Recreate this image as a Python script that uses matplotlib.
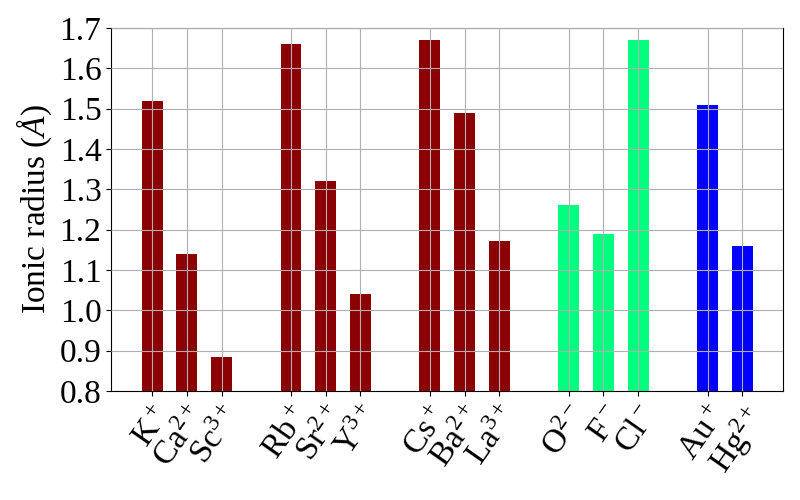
import matplotlib
matplotlib.use("Agg")
import numpy as np
import matplotlib.pyplot as plt

# ionic radii (Angstrom), grouped by period / type
labels = [r"K$^+$", r"Ca$^{2+}$", r"Sc$^{3+}$",
          r"Rb$^+$", r"Sr$^{2+}$", r"Y$^{3+}$",
          r"Cs$^+$", r"Ba$^{2+}$", r"La$^{3+}$",
          r"O$^{2-}$", r"F$^-$", r"Cl$^-$",
          r"Au$^+$", r"Hg$^{2+}$"]
positions = [0, 1, 2, 4, 5, 6, 8, 9, 10, 12, 13, 14, 16, 17]
radii = [1.52, 1.14, 0.885, 1.66, 1.32, 1.04, 1.67, 1.49, 1.172,
         1.26, 1.19, 1.67, 1.51, 1.16]
colors = ["darkred"] * 9 + ["springgreen"] * 3 + ["blue"] * 2

plt.rcParams["font.family"] = ["Liberation Serif", "DejaVu Serif"]
plt.rcParams["mathtext.fontset"] = "custom"
plt.rcParams["mathtext.rm"] = "Liberation Serif"
plt.rcParams["mathtext.it"] = "Liberation Serif:italic"
plt.rcParams["mathtext.bf"] = "Liberation Serif:bold"
plt.rcParams["font.size"] = 24

fig, ax = plt.subplots(figsize=(8, 5), dpi=100)
fig.subplots_adjust(left=0.139, right=0.979, top=0.944, bottom=0.218)

ax.bar(positions, radii, width=0.6, color=colors)
ax.set_ylim(0.8, 1.7)
ax.set_yticks(np.arange(0.8, 1.71, 0.1))
ax.set_xticks(positions)
ax.set_xticklabels(labels, rotation=55, ha="right", rotation_mode="anchor")
ax.set_ylabel(r"Ionic radius ($\AA$)")
ax.set_axisbelow(False)
ax.grid(True)

fig.savefig("out.png", dpi=100)
